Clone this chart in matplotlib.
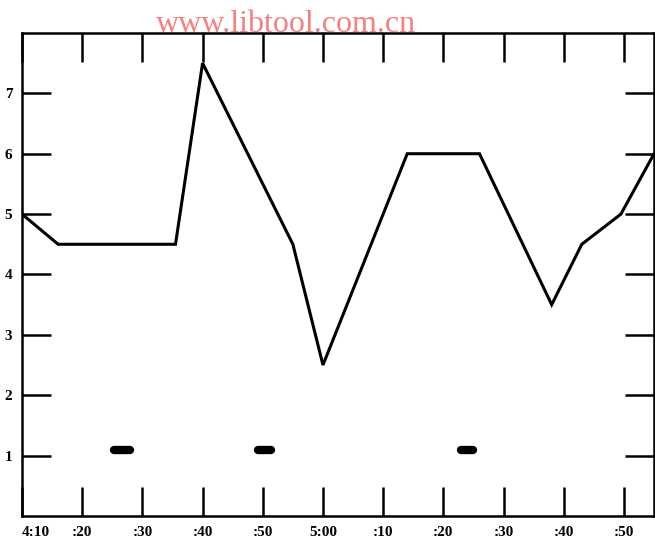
import matplotlib.pyplot as plt

# minutes after 4:10
minutes = [0, 6, 25.5, 30, 45, 50, 64, 76, 88, 93, 99.5, 105]
values = [5.0, 4.5, 4.5, 7.5, 4.5, 2.5, 6.0, 6.0, 3.5, 4.5, 5.0, 6.0]

# short heavy marks along the bottom
mark_starts = [15.3, 39.2, 73.0]
mark_ends = [17.9, 41.4, 75.0]
mark_level = 1.1

tick_minutes = [0, 10, 20, 30, 40, 50, 60, 70, 80, 90, 100]
tick_labels = ['4:10', ':20', ':30', ':40', ':50', '5:00', ':10', ':20', ':30', ':40', ':50']
y_ticks = [1, 2, 3, 4, 5, 6, 7]

fig = plt.figure(figsize=(6.55, 5.38), dpi=100)
ax = fig.add_axes([0.0336, 0.041, 0.9649, 0.8977])

ax.plot(minutes, values, color='black', linewidth=2.2, solid_joinstyle='miter')
for s, e in zip(mark_starts, mark_ends):
    ax.plot([s, e], [mark_level, mark_level], color='black', linewidth=6,
            solid_capstyle='round')

ax.set_xlim(0, 105)
ax.set_ylim(0, 8)
ax.set_xticks(tick_minutes)
ax.set_xticklabels(tick_labels)
ax.set_yticks(y_ticks)
ax.set_yticklabels([str(v) for v in y_ticks])

ax.tick_params(axis='both', direction='in', length=21, width=1.8,
               top=True, right=True, labelsize=11)
ax.tick_params(axis='x', pad=7)
ax.tick_params(axis='y', pad=7)
for lab in ax.get_xticklabels() + ax.get_yticklabels():
    lab.set_fontfamily('Liberation Serif')
    lab.set_fontweight('bold')
# first time label sits just right of the axis corner
ax.get_xticklabels()[0].set_horizontalalignment('left')
for sp in ax.spines.values():
    sp.set_linewidth(1.8)

fig.text(0.437, 0.94, 'www.libtool.com.cn', color='#f77f7f',
         fontsize=23, family='Liberation Serif', ha='center', va='baseline')

fig.savefig('out.png', dpi=100)
